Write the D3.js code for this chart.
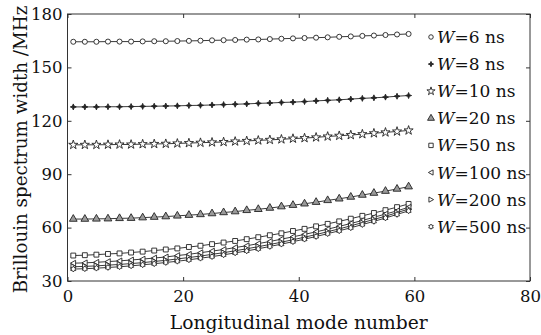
<!DOCTYPE html>
<html>
<head>
<meta charset="utf-8">
<script src="https://cdn.jsdelivr.net/npm/d3@7"></script>
<style>
  html, body { margin: 0; padding: 0; background: #fff; }
  svg { display: block; }
</style>
</head>
<body>
<svg id="chart" width="541" height="335"></svg>
<script>
// Longitudinal mode numbers sampled (every second mode)
const modes = [1,3,5,7,9,11,13,15,17,19,21,23,25,27,29,31,33,35,37,39,41,43,45,47,49,51,53,55,57,59];

// Brillouin spectrum width (MHz) for each pump pulse width W
const w6   = [164.4,164.4,164.4,164.5,164.5,164.5,164.6,164.7,164.7,164.8,164.9,165.0,165.2,165.3,165.4,165.6,165.7,165.9,166.1,166.3,166.5,166.7,166.9,167.2,167.4,167.7,167.9,168.2,168.5,168.8];
const w8   = [127.8,127.8,127.8,127.9,127.9,128.0,128.1,128.2,128.3,128.4,128.6,128.7,128.9,129.1,129.3,129.5,129.8,130.0,130.3,130.5,130.8,131.2,131.5,131.8,132.2,132.6,132.9,133.3,133.8,134.2];
const w10  = [106.5,106.5,106.5,106.6,106.7,106.7,106.9,107.0,107.1,107.3,107.5,107.7,107.9,108.1,108.4,108.7,109.0,109.3,109.6,110.0,110.3,110.7,111.2,111.6,112.0,112.5,113.0,113.5,114.0,114.6];
const w20  = [64.8,64.8,64.9,65.0,65.2,65.3,65.6,65.9,66.2,66.6,67.0,67.4,67.9,68.5,69.0,69.7,70.3,71.0,71.8,72.6,73.4,74.3,75.3,76.2,77.2,78.3,79.4,80.5,81.7,83.0];
const w50  = [44.3,44.5,44.8,45.2,45.5,46.0,46.5,47.1,47.7,48.3,49.1,49.8,50.7,51.6,52.5,53.5,54.6,55.7,56.8,58.1,59.3,60.7,62.1,63.5,65.0,66.6,68.2,69.8,71.5,73.3];
const w100 = [40.0,40.2,40.5,40.9,41.3,41.8,42.3,42.9,43.5,44.3,45.0,45.9,46.8,47.7,48.8,49.8,51.0,52.2,53.5,54.8,56.2,57.6,59.1,60.7,62.3,64.0,65.8,67.6,69.4,71.4];
const w200 = [38.0,38.2,38.5,38.9,39.3,39.8,40.3,41.0,41.6,42.4,43.2,44.0,45.0,45.9,47.0,48.1,49.3,50.5,51.8,53.2,54.6,56.1,57.7,59.3,61.0,62.8,64.6,66.4,68.4,70.4];
const w500 = [36.7,36.9,37.2,37.6,38.0,38.5,39.1,39.7,40.4,41.1,41.9,42.8,43.7,44.7,45.8,46.9,48.1,49.4,50.7,52.1,53.5,55.0,56.6,58.2,59.9,61.7,63.5,65.4,67.4,69.4];

const pulseWidths = ["6", "8", "10", "20", "50", "100", "200", "500"];
const xTicks = [0, 20, 40, 60, 80];
const yTicks = [30, 60, 90, 120, 150, 180];

const seriesValues = [w6, w8, w10, w20, w50, w100, w200, w500];

// Custom marker shapes
const triLeft = { draw(ctx, size) {
  const s = Math.sqrt(size / 0.65) / 2;
  ctx.moveTo(-s, 0); ctx.lineTo(s * 0.8, -s); ctx.lineTo(s * 0.8, s); ctx.closePath();
}};
const triRight = { draw(ctx, size) {
  const s = Math.sqrt(size / 0.65) / 2;
  ctx.moveTo(s, 0); ctx.lineTo(-s * 0.8, -s); ctx.lineTo(-s * 0.8, s); ctx.closePath();
}};
const hexagram = { draw(ctx, size) {
  const R = Math.sqrt(size) * 0.62, r = R * 0.62;
  for (let i = 0; i < 12; i++) {
    const a = Math.PI / 6 * i - Math.PI / 2;
    const rr = i % 2 === 0 ? R : r;
    const px = rr * Math.cos(a), py = rr * Math.sin(a);
    if (i === 0) ctx.moveTo(px, py); else ctx.lineTo(px, py);
  }
  ctx.closePath();
}};
// Small four-pointed star
const star4 = { draw(ctx, size) {
  const R = Math.sqrt(size) * 0.8, r = R * 0.4;
  for (let i = 0; i < 8; i++) {
    const a = Math.PI / 4 * i - Math.PI / 2;
    const rr = i % 2 === 0 ? R : r;
    const px = rr * Math.cos(a), py = rr * Math.sin(a);
    if (i === 0) ctx.moveTo(px, py); else ctx.lineTo(px, py);
  }
  ctx.closePath();
}};

const markerStyle = [
  { type: d3.symbolCircle,   size: 20, fill: "#fff" },
  { type: star4,             size: 14, fill: "#222" },
  { type: d3.symbolStar,     size: 26, fill: "#fff" },
  { type: d3.symbolTriangle, size: 26, fill: "#9a9a9a" },
  { type: d3.symbolSquare,   size: 24, fill: "#fff" },
  { type: triLeft,           size: 22, fill: "#fff" },
  { type: triRight,          size: 22, fill: "#fff" },
  { type: hexagram,          size: 22, fill: "#fff" }
];

const svg = d3.select("#chart");
const plotLeft = 67.5, plotRight = 530, plotTop = 14, plotBottom = 281;

const x = d3.scaleLinear().domain([0, 80]).range([plotLeft, plotRight]);
const y = d3.scaleLinear().domain([30, 180]).range([plotBottom, plotTop]);

const serif = "'DejaVu Serif', serif";
const ink = "#222";

// Frame
svg.append("rect")
  .attr("x", plotLeft).attr("y", plotTop)
  .attr("width", plotRight - plotLeft).attr("height", plotBottom - plotTop)
  .attr("fill", "none").attr("stroke", "#333").attr("stroke-width", 1);

function styleAxis(g) {
  g.select(".domain").remove();
  g.selectAll(".tick line").attr("stroke", "#333").attr("stroke-width", 1);
  g.selectAll(".tick text")
    .attr("fill", "#111")
    .attr("font-family", serif)
    .attr("font-size", 16.5);
}

svg.append("g").attr("transform", `translate(0,${plotBottom})`)
  .call(d3.axisBottom(x).tickValues(xTicks).tickSizeInner(-4).tickSizeOuter(0).tickPadding(9))
  .call(styleAxis);
svg.append("g").attr("transform", `translate(0,${plotTop})`)
  .call(d3.axisTop(x).tickValues(xTicks).tickSizeInner(-4).tickSizeOuter(0).tickFormat(""))
  .call(styleAxis);
svg.append("g").attr("transform", `translate(${plotLeft},0)`)
  .call(d3.axisLeft(y).tickValues(yTicks).tickSizeInner(-4).tickSizeOuter(0).tickPadding(5))
  .call(styleAxis);
svg.append("g").attr("transform", `translate(${plotRight},0)`)
  .call(d3.axisRight(y).tickValues(yTicks).tickSizeInner(-4).tickSizeOuter(0).tickFormat(""))
  .call(styleAxis);

// Axis titles
svg.append("text")
  .attr("x", (plotLeft + plotRight) / 2).attr("y", 329)
  .attr("text-anchor", "middle")
  .attr("font-family", serif).attr("font-size", 18.7).attr("fill", "#111")
  .text("Longitudinal mode number");

svg.append("text")
  .attr("transform", `translate(26.5,${(plotTop + plotBottom) / 2 + 2}) rotate(-90)`)
  .attr("text-anchor", "middle")
  .attr("font-family", serif).attr("font-size", 18.3).attr("fill", "#111")
  .text("Brillouin spectrum width /MHz");

// Curves with markers
const line = d3.line().x((d, i) => x(modes[i])).y(d => y(d));
const plot = svg.append("g");

seriesValues.forEach((vals, k) => {
  const st = markerStyle[k];
  plot.append("path")
    .attr("d", line(vals))
    .attr("fill", "none")
    .attr("stroke", "#3a3a3a")
    .attr("stroke-width", 1);
  const sym = d3.symbol().type(st.type).size(st.size);
  plot.append("g").selectAll("path")
    .data(vals)
    .join("path")
    .attr("transform", (d, i) => `translate(${x(modes[i])},${y(d)})`)
    .attr("d", sym)
    .attr("fill", st.fill)
    .attr("stroke", ink)
    .attr("stroke-width", 0.9);
});

// Legend
const legend = svg.append("g");
pulseWidths.forEach((w, k) => {
  const st = markerStyle[k];
  const cy = 37 + k * 27.1;
  legend.append("path")
    .attr("transform", `translate(431,${cy})`)
    .attr("d", d3.symbol().type(st.type).size(st.size * 0.8)())
    .attr("fill", st.fill)
    .attr("stroke", ink)
    .attr("stroke-width", 0.9);
  const t = legend.append("text")
    .attr("x", 437).attr("y", cy + 6)
    .attr("font-family", serif).attr("font-size", 17).attr("fill", "#111");
  t.append("tspan").attr("font-style", "italic").text("W");
  t.append("tspan").text(`=${w} ns`);
});
</script>
</body>
</html>
